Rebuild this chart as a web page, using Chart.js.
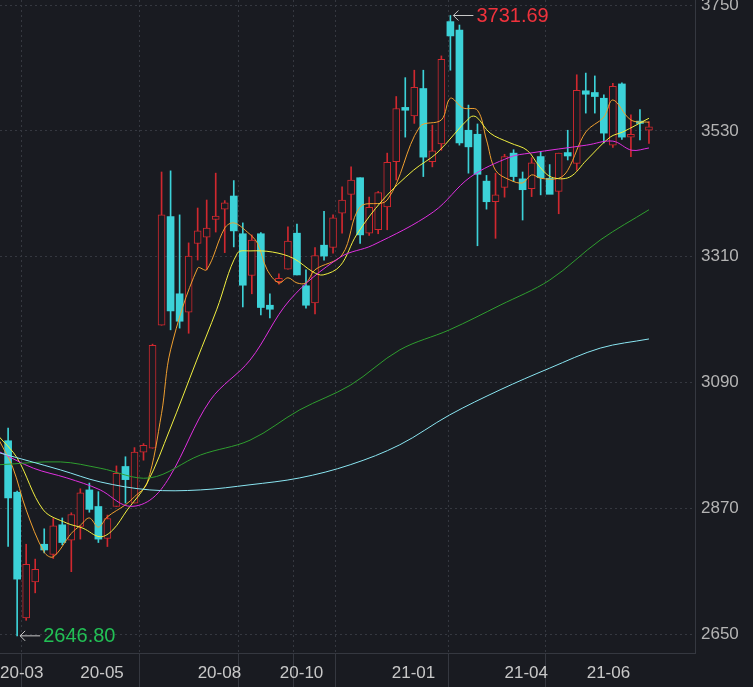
<!DOCTYPE html>
<html><head><meta charset="utf-8">
<script src="https://cdn.jsdelivr.net/npm/chart.js@4"></script>
<style>html,body{margin:0;padding:0;background:#191b21;}canvas{display:block}</style>
</head><body>
<div style="width:753px;height:687px"><canvas id="c"></canvas></div>
<script>
// weekly candles, index 0..71
const opens  = [2988,2898,2678,2741,2807,2789,2841,2814,2838,2902,2873,2817,2873,2943,2879,2968,2975,3190,3380,3245,3213,3333,3344,3375,3393,3416,3350,3277,3350,3225,3266,3288,3351,3259,3229,3330,3326,3386,3419,3448,3351,3357,3397,3476,3571,3556,3604,3476,3507,3721,3706,3531,3524,3442,3406,3431,3491,3446,3429,3485,3447,3424,3492,3473,3600,3597,3587,3505,3612,3519,3547,3531];
const closes = [2888,2746,2772,2763,2797,2839,2810,2859,2897,2868,2816,2852,2931,2920,2968,2980,3155,3383,3215,3197,3311,3355,3360,3381,3404,3355,3260,3339,3221,3218,3272,3337,3278,3225,3312,3311,3378,3409,3444,3348,3396,3422,3475,3569,3566,3606,3484,3495,3655,3696,3509,3502,3454,3406,3418,3485,3450,3427,3474,3448,3419,3491,3486,3601,3594,3590,3526,3608,3519,3524,3543,3537];
const highs  = [3010,2900,2807,2781,2834,2852,2853,2862,2904,2914,2899,2858,2944,2960,2976,2983,3157,3458,3460,3383,3334,3395,3409,3456,3408,3443,3369,3348,3352,3245,3280,3362,3367,3287,3326,3389,3383,3432,3467,3448,3414,3424,3491,3590,3623,3636,3636,3540,3661,3731.69,3715,3575,3542,3452,3456,3489,3497,3458,3483,3494,3471,3491,3531,3628,3631,3626,3593,3613,3614,3558,3567,3546];
const lows   = [2803,2646.8,2674,2722,2792,2782,2806,2759,2816,2863,2810,2803,2873,2879,2879,2954,2975,3190,3182,3185,3176,3304,3287,3353,3317,3327,3222,3245,3208,3203,3262,3288,3278,3220,3210,3304,3316,3351,3374,3333,3347,3350,3357,3444,3519,3543,3450,3467,3496,3636,3505,3456,3329,3393,3342,3414,3441,3374,3415,3418,3420,3385,3479,3461,3561,3561,3509,3501,3515,3485,3514,3508];

// moving average lines (week index, value)
const ma5K = [-1,0.5,2,4,5,7,8,9,10,11,13,14,15.4,17,18,21,22,24,25,26.5,27.6,28.7,30,31,32,33,34,37,39,42,45.6,48,49,50.4,52,53,54,55.6,57,58,59,61,62,64,66,67,69,71];
const ma5V = [2989,2942,2867,2793,2785,2826,2840,2853,2837,2855,2876,2890,2914,3036,3147,3290,3287,3360,3369,3353,3334,3287,3264,3273,3264,3264,3287,3313,3397,3409,3537,3549,3587,3570,3566,3514,3461,3444,3439,3453,3447,3447,3461,3528,3554,3584,3549,3545];
const ma10K = [-1,1,3.9,6.5,8.3,10.2,11.6,13.2,15.4,17.9,20.9,23.1,25.4,26.8,29.3,31.6,33.8,34.9,36.8,38.6,41.5,44.9,47.5,51.2,51.9,53.4,55.6,57.5,58.9,60.2,62.2,64.1,66.7,68.1,71];
const ma10V = [2995,2958,2867,2844,2835,2820,2832,2867,2914,3007,3129,3217,3316,3320,3318,3307,3283,3278,3294,3348,3409,3461,3491,3554,3554,3526,3509,3496,3467,3449,3449,3479,3519,3528,3552];
const ma20K = [-1,2.8,6.5,10.2,13.2,15.7,17.9,22.4,26.8,31.2,36.8,40.4,47.1,51.2,55.6,57.8,64.1,67,69.1,71];
const ma20V = [2969,2940,2923,2902,2874,2884,2925,3059,3129,3234,3309,3330,3388,3449,3484,3491,3505,3512,3496,3500];
const maLongK = [-1,5.8,10.2,15.7,21.3,26.8,32.3,37.9,43.4,48.9,54.5,60,65.6,71];
const ma60V = [2946,2951,2940,2923,2963,2989,3042,3085,3147,3182,3225,3269,3339,3392];
const ma120V = [2967,2937,2916,2902,2902,2911,2923,2946,2981,3033,3077,3115,3150,3166];

const tickIdx = [8,21,30.1,42.5,55,64.1,-0.9];
const tickLabels = ['20-05','20-08','20-10','21-01','21-04','21-06','20-03'];
const yTicks = [2650,2870,3090,3310,3530,3750];
const maxIdx = 49, maxVal = 3731.69, minIdx = 1, minVal = 2646.80;

const RED = '#d0282f', CYAN = '#3cd2d8', BG = '#191b21', GRID = '#353840';
const wick = [], bodyUp = [], bodyDn = [];
opens.forEach((o,i)=>{
  const c = closes[i];
  wick.push({x:i, y:[lows[i], highs[i]]});
  let lo = Math.min(o,c), hi = Math.max(o,c);
  if (hi-lo < 2) { hi += 1; lo -= 1; }
  (c >= o ? bodyUp : bodyDn).push({x:i, y:[lo,hi]});
});
const wickColors = opens.map((o,i)=> closes[i]>=o ? RED : CYAN);
const pts = (K,V)=>K.map((k,i)=>({x:k,y:V[i]}));
const line = (K,V,col)=>({type:'line', data:pts(K,V), borderColor:col, borderWidth:1, pointRadius:0, tension:0.35, order:0});

const extremes = {
  id:'extremes',
  afterDatasetsDraw(ch){
    const {ctx, scales:{x,y}} = ch;
    const draw = (idx,val,col,txt)=>{
      const px = x.getPixelForValue(idx)+3, py = y.getPixelForValue(val);
      ctx.save();
      ctx.strokeStyle = '#c8c8c8'; ctx.lineWidth = 1;
      ctx.beginPath(); ctx.moveTo(px,py); ctx.lineTo(px+20,py);
      ctx.moveTo(px+5,py-5); ctx.lineTo(px,py); ctx.lineTo(px+5,py+5); ctx.stroke();
      ctx.fillStyle = col; ctx.font = '20px "Liberation Sans", Arial, sans-serif';
      ctx.textBaseline = 'middle'; ctx.fillText(txt, px+23, py+1);
      ctx.restore();
    };
    draw(maxIdx, maxVal, '#f0323c', maxVal.toFixed(2));
    draw(minIdx, minVal, '#22c055', minVal.toFixed(2));
  }
};

new Chart(document.getElementById('c'), {
  type:'bar',
  data:{datasets:[
    line(maLongK, ma120V, '#8ae6f2'),
    line(maLongK, ma60V, '#2f9e2f'),
    line(ma20K, ma20V, '#e030e0'),
    line(ma10K, ma10V, '#f2f040'),
    line(ma5K, ma5V, '#f0a030'),
    {data:bodyUp, backgroundColor:BG, borderColor:RED, borderWidth:1, barThickness:7, order:1, borderSkipped:false},
    {data:bodyDn, backgroundColor:CYAN, borderColor:CYAN, borderWidth:0, barThickness:7, order:1, borderSkipped:false},
    {data:wick, backgroundColor:wickColors, borderWidth:0, barThickness:1, order:2},
  ]},
  plugins:[extremes],
  options:{
    responsive:true, maintainAspectRatio:false, animation:false,
    datasets:{bar:{grouped:false}},
    layout:{padding:0},
    plugins:{legend:{display:false}, tooltip:{enabled:false}},
    scales:{
      x:{type:'linear', min:-0.9, max:76.1, offset:false,
        afterBuildTicks:a=>{a.ticks = tickIdx.map(v=>({value:v}));},
        afterFit:a=>{a.height = 34; a.paddingLeft = 0; a.paddingRight = 0;},
        grid:{color:GRID, drawTicks:true, tickLength:34, tickColor:GRID},
        border:{color:GRID, dash:[2,3]},
        ticks:{align:'start', padding:-24, maxRotation:0, autoSkip:false, color:'#c8c8c8',
          font:{size:17, family:'"Liberation Sans", Arial'},
          callback:(v,i)=>tickLabels[i]}
      },
      y:{position:'right', min:2616.8, max:3758.8,
        afterBuildTicks:a=>{a.ticks = yTicks.map(v=>({value:v}));},
        afterFit:a=>{a.width = 58; a.paddingTop = 0; a.paddingBottom = 0;},
        grid:{color:GRID, drawTicks:false},
        border:{color:GRID, dash:[2,3]},
        ticks:{padding:6, color:'#b4b4b4', font:{size:17, family:'"Liberation Sans", Arial'},
          callback:v=>String(v)}
      }
    }
  }
});
</script>
</body></html>
